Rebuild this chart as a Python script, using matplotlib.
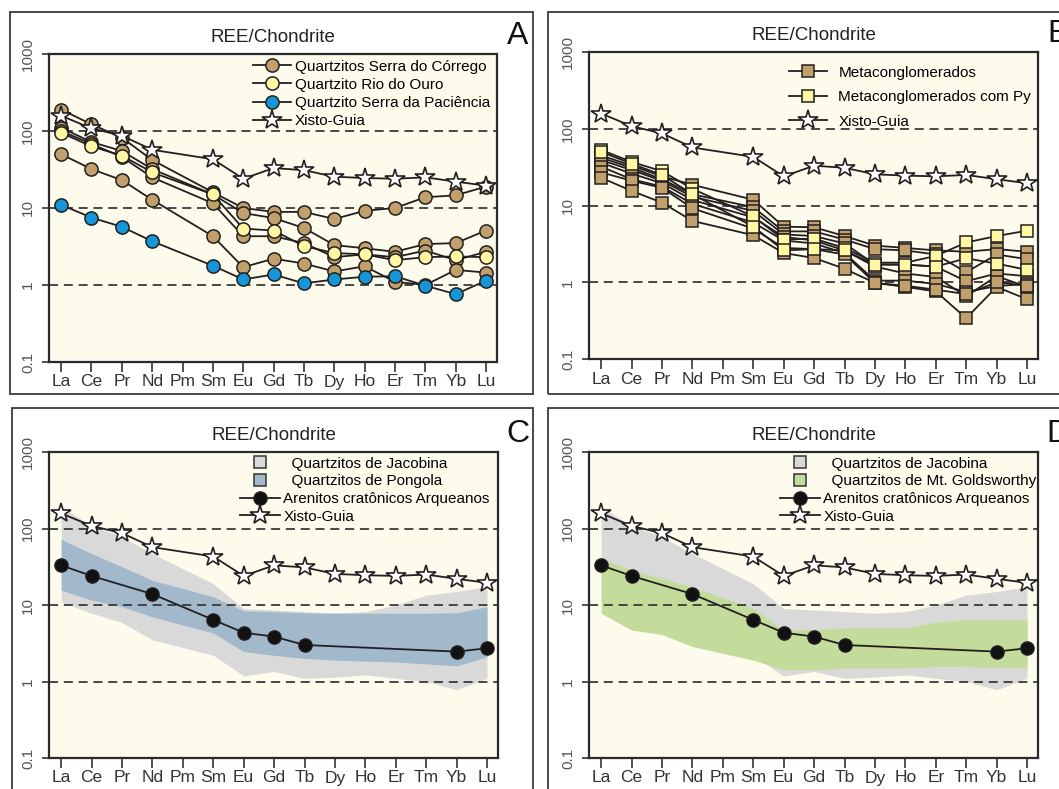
import numpy as np
import matplotlib
matplotlib.use('Agg')
from matplotlib import pyplot as plt
from matplotlib.lines import Line2D
from matplotlib.patches import Rectangle

nan = np.nan
ree = ['La', 'Ce', 'Pr', 'Nd', 'Pm', 'Sm', 'Eu', 'Gd', 'Tb', 'Dy', 'Ho', 'Er', 'Tm', 'Yb', 'Lu']

# Xisto-Guia reference (all panels)
xisto = [158, 108, 87, 57, nan, 43, 24, 33, 31, 25.5, 24.5, 24, 25, 22, 19.5]

# panel A
corrego = [
    [190, 122, 82, 42, nan, 16, 10, 8.9, 8.9, 7.2, 9.2, 10, 13.8, 14.6, 19],
    [110, 72, 55, 32, nan, 15, 8.6, 7.4, 5.5, 3.3, 3.0, 2.7, 3.4, 3.5, 5.1],
    [100, 68, 46, 25, nan, 11.5, 4.3, 4.3, 3.5, 2.3, 2.5, 2.3, 2.8, 2.1, 2.7],
    [50, 32, 23, 12.8, nan, 4.3, 1.7, 2.2, 1.9, 1.5, 1.75, 1.1, 1.0, 1.57, 1.45],
]
rio_ouro = [95, 63, 48, 29, nan, 15, 5.4, 5.1, 3.2, 2.6, 2.5, 2.1, 2.3, 2.35, 2.3]
paciencia = [11, 7.5, 5.7, 3.7, nan, 1.78, 1.18, 1.37, 1.05, 1.18, 1.28, 1.3, 0.98, 0.76, 1.14]

# panel B
metacong = [
    [45, 33, 24, 18.6, nan, 11.9, 5.3, 5.2, 4.0, 3.0, 2.8, 2.6, 2.5, 2.7, 2.5],
    [42, 31, 22, 14, nan, 9.5, 4.6, 4.6, 3.6, 2.7, 2.6, 2.3, 1.35, 2.3, 2.0],
    [39, 29, 21, 13, nan, 8.5, 4.2, 4.0, 3.2, 1.7, 1.7, 1.6, 1.03, 1.3, 1.2],
    [36, 26, 19.5, 11.8, nan, 7.0, 3.9, 3.5, 2.6, 1.6, 1.3, 1.17, 0.66, 1.2, 0.87],
    [32, 22, 17.6, 10.5, nan, 6.0, 3.5, 3.2, 2.4, 1.05, 1.05, 0.95, 0.75, 0.89, 0.95],
    [27, 21, 17, 9.2, nan, 5.0, 2.8, 2.7, 2.3, 0.98, 0.87, 0.76, 0.34, 0.87, 0.6],
    [23, 15.5, 10.9, 6.3, nan, 4.1, 2.4, 2.07, 1.5, 0.98, 0.9, 0.8, 0.7, 1.0, 0.9],
]
metacong_py = [
    [53, 37, 28, 16.5, nan, 7.2, 3.6, 3.7, 2.8, 1.8, 1.8, 2.2, 3.3, 4.0, 4.7],
    [50, 35, 25, 14, nan, 5.3, 2.6, 2.7, 2.6, 1.7, 1.7, 1.6, 2.05, 1.75, 1.45],
]

# panels C and D
arenitos = [33, 24, nan, 13.9, nan, 6.4, 4.35, 3.86, 3.0, nan, nan, nan, nan, 2.46, 2.72]
jacobina_hi = [190, 110, 78, 47, nan, 19, 9, 8.6, 8.2, 7.8, 8.2, 10, 13.5, 15, 17.4]
jacobina_lo = [11, 7.8, 5.9, 3.5, nan, 2.2, 1.18, 1.35, 1.1, 1.14, 1.22, 1.1, 1.0, 0.78, 1.1]
pongola_hi = [72, 47, 31.6, 21, nan, 12.8, 8.4, 8.2, 7.9, 7.8, 7.8, 7.8, 7.8, 7.9, 9.5]
pongola_lo = [15.6, 11.6, 9.5, 7.0, nan, 4.3, 2.46, 2.2, 2.0, 1.9, 1.85, 1.8, 1.7, 1.6, 2.1]
goldsw_hi = [40.7, 28.6, 22.2, 17.3, nan, 9.0, 4.7, 4.8, 5.0, 5.0, 5.0, 6.0, 6.4, 6.4, 6.4]
goldsw_lo = [7.8, 4.7, 4.1, 2.86, nan, 1.9, 1.42, 1.42, 1.5, 1.5, 1.5, 1.57, 1.57, 1.52, 1.5]

BG = '#fdfcec'
INK = '#231f20'
BROWN = '#c2a06b'
YELLOW = '#fff7a1'
BLUE = '#1596d8'
GREY = '#d9d9d9'
PONG = '#a2b8cb'
GREEN = '#c3dc9b'

W, H = 1059, 789
fig = plt.figure(figsize=(W / 100, H / 100), dpi=100)
fig.patch.set_facecolor('white')
plt.rcParams['font.family'] = ['Liberation Sans', 'DejaVu Sans']

xpos = np.arange(len(ree))


def series(vals):
    v = np.array(vals, dtype=float)
    m = ~np.isnan(v)
    return xpos[m], v[m]


def frame(x0, y0, x1, y1):
    fig.patches.append(Rectangle((x0 / W, 1 - y1 / H), (x1 - x0) / W, (y1 - y0) / H,
                                 transform=fig.transFigure, fill=False,
                                 edgecolor='#3a3a3a', lw=1.3))


def make_ax(l, t, r, b, letter):
    ax = fig.add_axes([l / W, 1 - b / H, (r - l) / W, (b - t) / H])
    ax.set_facecolor(BG)
    ax.set_yscale('log')
    ax.set_ylim(0.1, 1000)
    ax.set_xlim(-0.4, 14.36)
    for v in [1, 10, 100]:
        ax.axhline(v, color='#3a3a3a', lw=1.3, ls=(0, (5, 3.2)), zorder=2)
    ax.set_xticks(xpos)
    ax.set_xticklabels(ree, fontsize=12.5, color='#333333')
    ax.set_yticks([0.1, 1, 10, 100, 1000])
    ax.set_yticklabels(['0.1', '1', '10', '100', '1000'], rotation=90,
                       va='center', fontsize=11, color='#555555')
    ax.minorticks_off()
    ax.tick_params(axis='x', direction='out', length=7, width=1.2, pad=2, color='#333333')
    ax.tick_params(axis='y', direction='out', length=5, width=1.2, pad=5, color='#333333')
    for s in ax.spines.values():
        s.set_color('#2a2a2a')
        s.set_linewidth(1.6)
    ax.text(0.5, 1.055, 'REE/Chondrite', transform=ax.transAxes, ha='center',
            va='center', fontsize=13.5, color='#222222')
    ax.text(1.045, 1.06, letter, transform=ax.transAxes, ha='center',
            va='center', fontsize=23, color='#111111')
    return ax


def plot_star(ax):
    x, y = series(xisto)
    ax.plot(x, y, color=INK, lw=1.3, marker='*', ms=15, mfc='white',
            mec=INK, mew=1.2, zorder=6, clip_on=False)


def star_handle():
    return Line2D([], [], color=INK, lw=1.3, marker='*', ms=15, mfc='white', mec=INK, mew=1.2)


# frames round the four panels
frame(10, 12, 533, 394)
frame(548, 12, 1070, 394)
frame(12, 408, 533, 800)
frame(548, 408, 1070, 800)

# ---- A
axA = make_ax(49, 54, 497, 362, 'A')
for row in corrego:
    x, y = series(row)
    axA.plot(x, y, color=INK, lw=1.3, marker='o', ms=9.5, mfc=BROWN, mec=INK, mew=1.1, zorder=4)
x, y = series(rio_ouro)
axA.plot(x, y, color=INK, lw=1.3, marker='o', ms=9.5, mfc=YELLOW, mec=INK, mew=1.1, zorder=5)
x, y = series(paciencia)
axA.plot(x, y, color=INK, lw=1.3, marker='o', ms=9.5, mfc=BLUE, mec=INK, mew=1.1, zorder=5)
plot_star(axA)
hA = [Line2D([], [], color=INK, lw=1.3, marker='o', ms=9.5, mfc=c, mec=INK, mew=1.1)
      for c in (BROWN, YELLOW, BLUE)] + [star_handle()]
axA.legend(hA, ['Quartzitos Serra do Córrego', 'Quartzito Rio do Ouro',
                'Quartzito Serra da Paciência', 'Xisto-Guia'],
           loc='upper left', bbox_to_anchor=(0.455, 0.982), frameon=False,
           fontsize=11, handlelength=2.5, handletextpad=0.25, labelspacing=0.28,
           borderpad=0, borderaxespad=0)

# ---- B
axB = make_ax(589, 52, 1038, 359, 'B')
for row in metacong:
    x, y = series(row)
    axB.plot(x, y, color=INK, lw=1.3, marker='s', ms=9, mfc=BROWN, mec=INK, mew=1.1, zorder=4)
for row in metacong_py:
    x, y = series(row)
    axB.plot(x, y, color=INK, lw=1.3, marker='s', ms=9, mfc=YELLOW, mec=INK, mew=1.1, zorder=5)
plot_star(axB)
hB = [Line2D([], [], color=INK, lw=1.3, marker='s', ms=9, mfc=c, mec=INK, mew=1.1)
      for c in (BROWN, YELLOW)] + [star_handle()]
axB.legend(hB, ['Metaconglomerados', 'Metaconglomerados com Py', 'Xisto-Guia'],
           loc='upper left', bbox_to_anchor=(0.445, 0.955), frameon=False,
           fontsize=11, handlelength=2.5, handletextpad=0.75, labelspacing=0.68,
           borderpad=0, borderaxespad=0)


def band_panel(ax, hi2, lo2, col2, name2):
    x, hi = series(jacobina_hi)
    _, lo = series(jacobina_lo)
    ax.fill_between(x, lo, hi, color=GREY, lw=0, zorder=1)
    x, hi = series(hi2)
    _, lo = series(lo2)
    ax.fill_between(x, lo, hi, color=col2, lw=0, zorder=1.5)
    x, y = series(arenitos)
    ax.plot(x, y, color=INK, lw=1.3, marker='o', ms=9.5, mfc='#111111', mec=INK, zorder=5)
    plot_star(ax)
    hs = [Line2D([], [], ls='none', marker='s', ms=8, mfc=c, mec='#333333', mew=1.1)
          for c in (GREY, col2)]
    hs += [Line2D([], [], color=INK, lw=1.3, marker='o', ms=9.5, mfc='#111111', mec=INK),
           star_handle()]
    ax.legend(hs, ['  Quartzitos de Jacobina', '  ' + name2,
                   'Arenitos cratônicos Arqueanos', 'Xisto-Guia'],
              loc='upper left', bbox_to_anchor=(0.425, 0.985), frameon=False,
              fontsize=11, handlelength=2.6, handletextpad=0.25, labelspacing=0.24,
              borderpad=0, borderaxespad=0)


axC = make_ax(49, 452, 498, 758, 'C')
band_panel(axC, pongola_hi, pongola_lo, PONG, 'Quartzitos de Pongola')

axD = make_ax(589, 452, 1038, 758, 'D')
band_panel(axD, goldsw_hi, goldsw_lo, GREEN, 'Quartzitos de Mt. Goldsworthy')

fig.savefig('out.png', dpi=100, facecolor='white')
